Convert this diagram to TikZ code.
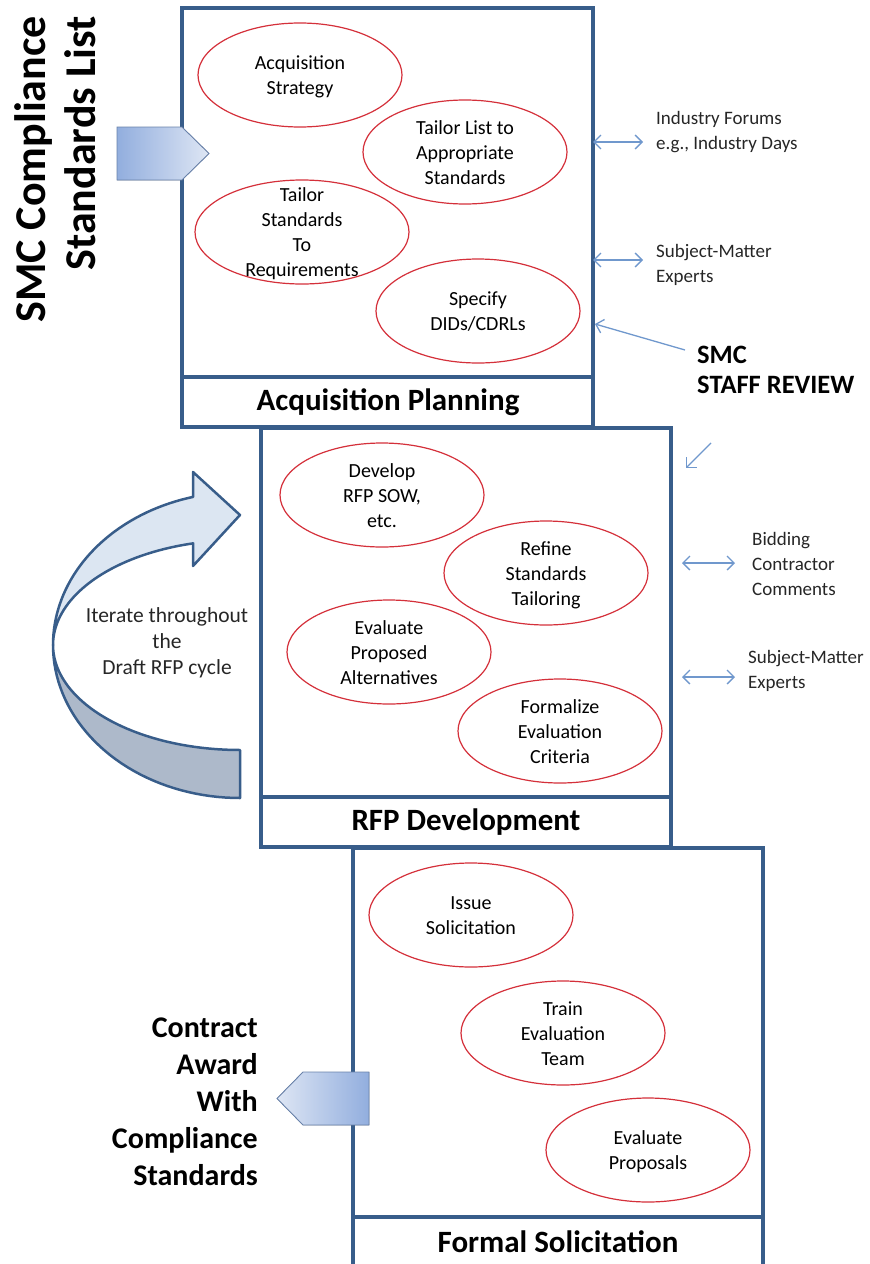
\documentclass[tikz,border=0pt]{standalone}
\usepackage{fontspec}
\setmainfont{Carlito}
\usetikzlibrary{arrows.meta}
\usetikzlibrary{shapes.geometric}
\usetikzlibrary{positioning}
\definecolor{box-blue}{RGB}{56, 93, 138}
\definecolor{oval-red}{RGB}{212, 48, 58}
\definecolor{link-blue}{RGB}{112, 152, 205}
\definecolor{turn-light}{RGB}{220, 230, 242}
\definecolor{turn-dark}{RGB}{173, 185, 202}
\definecolor{tab-dark}{RGB}{146, 174, 222}
\definecolor{tab-light}{RGB}{222, 230, 244}
\definecolor{tab-edge}{RGB}{105, 130, 170}
\newcommand{\ovaltext}[1]{\smash{\raisebox{-7.5pt}{\begin{tabular}{@{}c@{}}#1\end{tabular}}}}

\begin{document}
\begin{tikzpicture}[x=1pt, y=-1pt,
    phase/.style={draw=box-blue, line width=3.5pt},
    oval/.style={ellipse, draw=oval-red, line width=1.2pt, inner sep=0pt,
        minimum width=204pt, minimum height=104pt, font=\fontsize{20}{25}\selectfont},
    phasetitle/.style={font=\fontsize{31}{36}\selectfont\bfseries, inner sep=0pt},
    sidenote/.style={anchor=west, align=left, inner sep=0pt, text=black!85,
        font=\fontsize{19}{25}\selectfont},
    link/.style={draw=link-blue, line width=1.3pt, >={Straight Barb[length=7pt,width=14pt]}},
    tab/.style={draw=tab-edge, line width=0.9pt, line join=miter}]
\useasboundingbox (0,0) rectangle (870,1264);

% phase boxes
\draw[phase] (182,8) rectangle (593,427);
\draw[phase] (182,377) -- (593,377);
\node[phasetitle] (planning) at (388,402) {Acquisition Planning};

\draw[phase] (261,428) rectangle (671,847);
\draw[phase] (261,797) -- (671,797);
\node[phasetitle] (rfpdev) at (466,822) {RFP Development};

\draw[phase] (353,1264) -- (353,848) -- (763,848) -- (763,1264);
\draw[phase] (353,1217) -- (763,1217);
\node[phasetitle] (formalsol) at (558,1242) {Formal Solicitation};

% activities
\node[oval] (acqstrat) at (300,75) {\ovaltext{Acquisition\\Strategy}};
\node[oval] (tailorlist) at (465,152) {\ovaltext{Tailor List to\\Appropriate\\Standards}};
\node[oval, minimum width=214pt] (tailorreq) at (302,232) {\ovaltext{Tailor\\Standards\\To\\Requirements}};
\node[oval] (specify) at (478,311) {\ovaltext{Specify\\DIDs/CDRLs}};

\node[oval] (developrfp) at (382,495) {\ovaltext{Develop\\RFP SOW,\\etc.}};
\node[oval] (refine) at (546,573) {\ovaltext{Refine\\Standards\\Tailoring}};
\node[oval] (evalalt) at (389,652) {\ovaltext{Evaluate\\Proposed\\Alternatives}};
\node[oval] (formalize) at (560,731) {\ovaltext{Formalize\\Evaluation\\Criteria}};

\node[oval] (issue) at (471,915) {\ovaltext{Issue\\Solicitation}};
\node[oval] (train) at (563,1033) {\ovaltext{Train\\Evaluation\\Team}};
\node[oval] (evalprop) at (648,1150) {\ovaltext{Evaluate\\Proposals}};

% outside inputs
\node[sidenote] (forums) at (656,132.5) {Industry Forums\\e.g., Industry Days};
\node[sidenote] (sme-one) at (656,264.5) {Subject-Matter\\Experts};
\node[sidenote] (bidders) at (752,564) {Bidding\\Contractor\\Comments};
\node[sidenote] (sme-two) at (748,670.5) {Subject-Matter\\Experts};
\node[anchor=west, align=left, inner sep=0pt, font=\fontsize{26.5}{30}\selectfont\bfseries]
    (review) at (697,370) {SMC\\STAFF REVIEW};

\coordinate (forums-a) at (593,142);
\coordinate (forums-b) at (643,142);
\coordinate (sme-one-a) at (593,260);
\coordinate (sme-one-b) at (643,260);
\coordinate (bidders-a) at (682,563);
\coordinate (bidders-b) at (735,563);
\coordinate (sme-two-a) at (682,677);
\coordinate (sme-two-b) at (735,677);
\coordinate (review-a) at (685,350);
\coordinate (review-b) at (595,324);
\coordinate (review-c) at (711,443);
\coordinate (review-d) at (686,468);
\draw[link, <->] (forums-a) -- (forums-b);
\draw[link, <->] (sme-one-a) -- (sme-one-b);
\draw[link, <->] (bidders-a) -- (bidders-b);
\draw[link, <->] (sme-two-a) -- (sme-two-b);
\draw[link, ->] (review-a) -- (review-b);
\draw[link, ->] (review-c) -- (review-d);

% standards list in, contract out
\node[rotate=90, anchor=east, align=right, inner sep=0pt,
    font=\fontsize{44}{50}\selectfont\bfseries] (smclist) at (55,16) {SMC Compliance\\Standards List};
\filldraw[tab, left color=tab-dark, right color=tab-light]
    (117,127) -- (182,127) -- (209,153.5) -- (182,180) -- (117,180) -- cycle;

\node[anchor=east, align=right, inner sep=0pt, font=\fontsize{30}{37}\selectfont\bfseries]
    (award) at (258,1101.5) {Contract\\Award\\With\\Compliance\\Standards};
\filldraw[tab, left color=tab-light, right color=tab-dark]
    (277,1098.5) -- (303,1072) -- (369,1072) -- (369,1125) -- (303,1125) -- cycle;

% draft rfp loop
\filldraw[fill=turn-dark, draw=box-blue, line width=2.5pt, line join=round]
    plot[domain=180:90, samples=40] ({240+187*cos(\x)}, {645+153*sin(\x)})
    -- (240,750)
    -- plot[domain=90:180, samples=40] ({240+187*cos(\x)}, {645+105*sin(\x)}) -- cycle;
\filldraw[fill=turn-light, draw=box-blue, line width=2.5pt, line join=round]
    plot[domain=255.5:180, samples=40] ({240+187*cos(\x)}, {645+153*sin(\x)})
    -- plot[domain=180:255.5, samples=40] ({240+187*cos(\x)}, {645+105*sin(\x)})
    -- (193,566) -- (240,515) -- (193,472) -- cycle;
\node[align=center, inner sep=0pt, text=black!85, font=\fontsize{21.5}{26}\selectfont]
    (iterate) at (167,643) {Iterate throughout\\the\\Draft RFP cycle};
\end{tikzpicture}
\end{document}
